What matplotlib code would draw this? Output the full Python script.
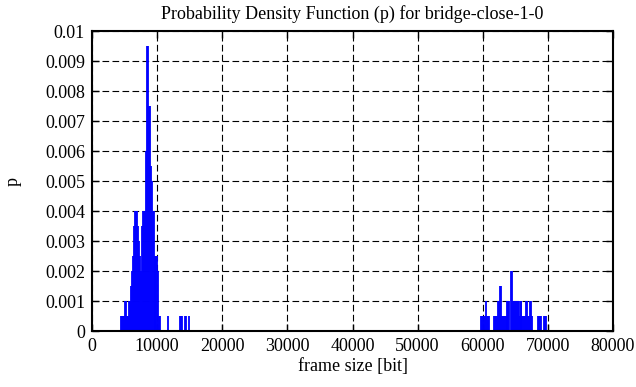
"""PDF of frame sizes for bridge-close-1-0 (gnuplot-style impulses)"""
import matplotlib
matplotlib.use("Agg")
import matplotlib.pyplot as plt
from matplotlib.ticker import FuncFormatter

# ------------------------------------------------------------------#
# data: frame size [bit] and probability p
sizes_low = [4500, 4650, 4800, 4950, 5100, 5250, 5400, 5550, 5700, 5850,
             6000, 6150, 6300, 6450, 6600, 6750, 6900, 7050, 7200, 7350,
             7500, 7650, 7800, 7950, 8100, 8250, 8400, 8550, 8700, 8850,
             9000, 9150, 9300, 9450, 9600, 9750, 9900, 10050, 10200, 10350,
             10500, 11600, 13550, 13700, 13850, 14350, 14500, 14850]
p_low = [0.0005, 0.0005, 0.0005, 0.0005, 0.001, 0.001, 0.0005, 0.0005, 0.001, 0.001,
         0.0015, 0.002, 0.0025, 0.0035, 0.004, 0.004, 0.004, 0.0035, 0.003, 0.0025,
         0.002, 0.0035, 0.004, 0.004, 0.004, 0.006, 0.0095, 0.0095, 0.0075, 0.0075,
         0.0055, 0.005, 0.004, 0.004, 0.0025, 0.0025, 0.0025, 0.0025, 0.002, 0.0005,
         0.0005, 0.0005, 0.0005, 0.0005, 0.0005, 0.0005, 0.0005, 0.0005]

sizes_high = [59700, 59850, 60000, 60150, 60300, 60500, 60700, 60850, 61000,
              61700, 61850, 62000, 62150, 62300, 62450, 62600, 62750,
              62900, 63050, 63200, 63350, 63500, 63650, 63800, 63950, 64100,
              64300, 64450, 64600, 64750, 64900, 65050, 65200, 65350, 65500,
              65650, 65800, 65950, 66100, 66250, 66400, 66550, 66700, 66850,
              67000, 67150, 67300, 67450, 67600,
              68550, 68700, 68850, 69000, 69350, 69500, 69650]
p_high = [0.0005, 0.0005, 0.0005, 0.0005, 0.0005, 0.001, 0.0005, 0.0005, 0.0005,
          0.0005, 0.0005, 0.0005, 0.0005, 0.001, 0.001, 0.0015, 0.0015,
          0.0005, 0.0005, 0.0005, 0.0005, 0.0005, 0.0005, 0.001, 0.001, 0.001,
          0.002, 0.002, 0.001, 0.001, 0.001, 0.001, 0.001, 0.001, 0.001,
          0.0005, 0.001, 0.001, 0.0005, 0.0005, 0.0005, 0.0005, 0.001, 0.001,
          0.0005, 0.0005, 0.001, 0.001, 0.0005,
          0.0005, 0.0005, 0.0005, 0.0005, 0.0005, 0.0005, 0.0005]

x_ticks = list(range(0, 80001, 10000))
y_ticks = [i / 1000 for i in range(0, 11)]

# ------------------------------------------------------------------#
plt.rcParams["font.family"] = ["Liberation Serif", "DejaVu Serif"]
plt.rcParams["font.size"] = 13

fig = plt.figure(figsize=(6.36, 3.87), dpi=100)
ax = fig.add_axes([92 / 636, 56 / 387, 521 / 636, 300 / 387])

sizes = sizes_low + sizes_high
probs = p_low + p_high
ax.vlines(sizes, 0, probs, colors="#0000ff", linewidth=1.3, zorder=2)

ax.set_xlim(0, 80000)
ax.set_ylim(0, 0.01)
ax.set_xticks(x_ticks)
ax.set_yticks(y_ticks)
ax.yaxis.set_major_formatter(FuncFormatter(lambda v, pos: "0" if v == 0 else f"{v:g}"))

ax.set_axisbelow(True)
ax.grid(True, color="black", linestyle=(0, (6, 3)), linewidth=0.8)
ax.tick_params(direction="in", length=5, width=1, top=True, right=True, pad=5)
for s in ax.spines.values():
    s.set_linewidth(1.5)
    s.set_zorder(3)

ax.set_title("Probability Density Function (p) for bridge-close-1-0", fontsize=13, pad=9)
ax.set_xlabel("frame size [bit]", labelpad=2)
ax.set_ylabel("p", labelpad=17)

fig.savefig("out.png", dpi=100)
